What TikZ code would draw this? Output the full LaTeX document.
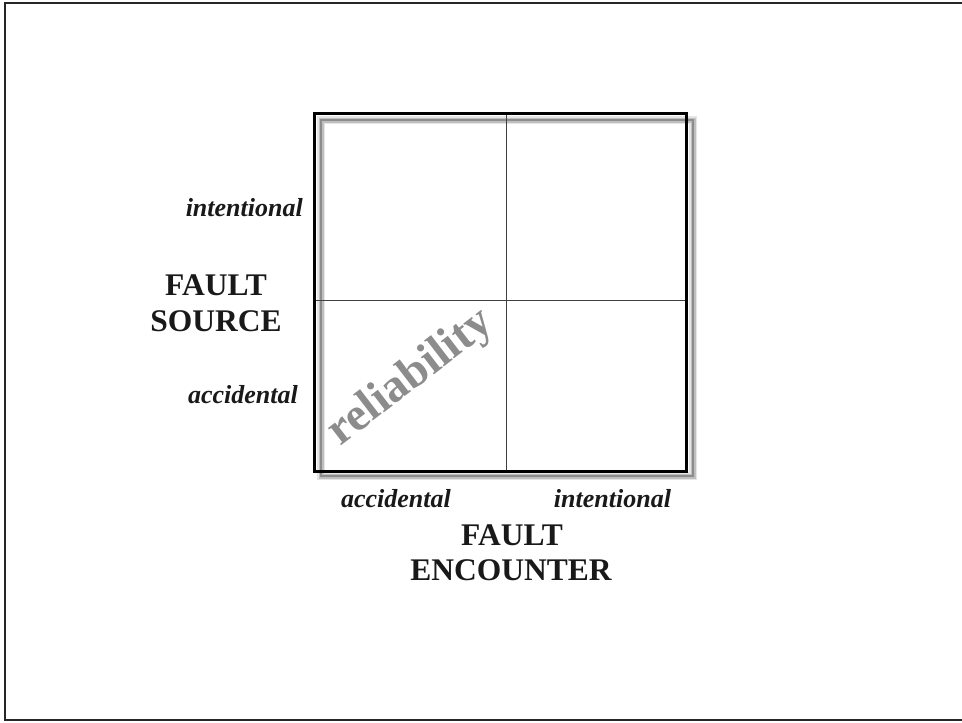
\documentclass[tikz,border=0pt]{standalone}
\usepackage{fontspec}
\setmainfont{Liberation Serif}
\begin{document}
\begin{tikzpicture}[x=1pt,y=-1pt,
  axisval/.style={font=\fontsize{26}{30}\selectfont\bfseries\itshape, text=black!90, inner sep=0pt},
  axistitle/.style={font=\fontsize{31.5}{36}\selectfont\bfseries, text=black!90, inner sep=0pt},
  gridline/.style={line width=0.9pt, black!75},
  watermark/.style={font=\fontsize{47}{52}\selectfont\bfseries, text=black!45, inner sep=0pt}]
\useasboundingbox (0,0) rectangle (962,723);
% outer frame (right side off-page)
\draw[line width=2.5pt, black!85] (962,3) -- (5,3) -- (5,720) -- (962,720);
% shadow of box outline
\draw[line width=8pt, black!10] (321,120) rectangle (693,476);
\draw[line width=5pt, black!25] (321,120) rectangle (693,476);
\draw[line width=2.5pt, black!45] (321,120) rectangle (693,476);
% main box
\coordinate (tl) at (314,113);
\coordinate (br) at (686.5,471);
\coordinate (tm) at (506,113);
\coordinate (bm) at (506,471);
\coordinate (lm) at (314,300);
\coordinate (rm) at (686.5,300);
\draw[gridline] (tm) -- (bm);
\draw[gridline] (lm) -- (rm);
\draw[line width=3pt, black] (tl) rectangle (br);
% watermark
\node[watermark, rotate=37.5] (rel) at (411,378) {reliability};
% left axis
\node[axisval, anchor=base east] (srcint) at (303,216) {intentional};
\node[axisval, anchor=base east] (srcacc) at (298,403) {accidental};
\node[axistitle, anchor=base] (srcf) at (216,295) {FAULT};
\node[axistitle, anchor=base] (srcs) at (216,331) {SOURCE};
% bottom axis
\node[axisval, anchor=base] (encacc) at (396,507) {accidental};
\node[axisval, anchor=base] (encint) at (612.5,507) {intentional};
\node[axistitle, anchor=base] (encf) at (512,545) {FAULT};
\node[axistitle, anchor=base] (ence) at (511,580) {ENCOUNTER};
\end{tikzpicture}
\end{document}
